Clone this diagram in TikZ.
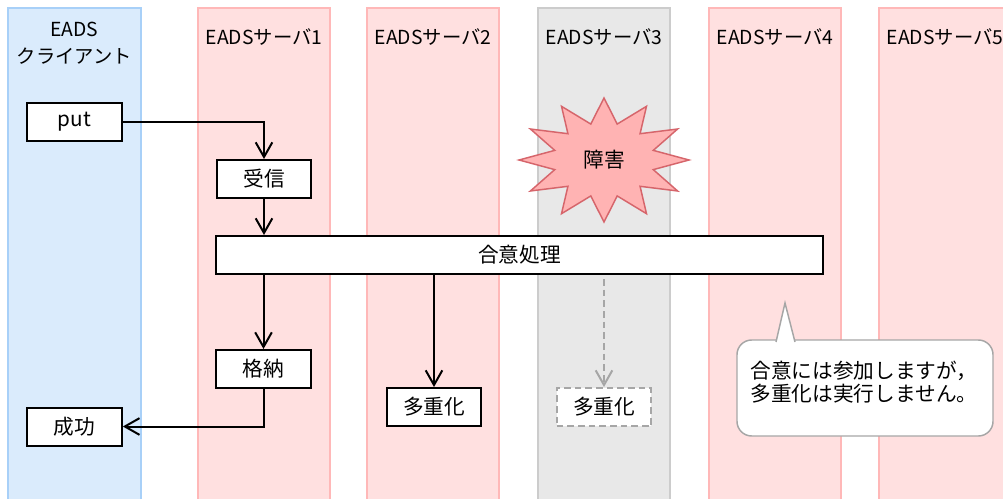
\documentclass[tikz,border=0pt]{standalone}
\usepackage{fontspec}
\setmainfont{Noto Sans CJK JP}
\usepackage{tikz}
\usetikzlibrary{arrows.meta}
\usetikzlibrary{positioning}

\definecolor{clientfill}{HTML}{DAEBFC}
\definecolor{clientline}{HTML}{A8D0F8}
\definecolor{serverfill}{HTML}{FFE0E0}
\definecolor{serverline}{HTML}{FFB8B8}
\definecolor{downfill}{HTML}{E8E8E8}
\definecolor{downline}{HTML}{CCCCCC}
\definecolor{burstfill}{HTML}{FFB3B3}
\definecolor{burstline}{HTML}{D6656B}
\definecolor{greyline}{HTML}{A6A6A6}

\tikzset{
	every node/.style={font=\fontsize{15.5pt}{17pt}\selectfont},
	title/.style={font=\fontsize{14.5pt}{20pt}\selectfont, align=center},
	lane/.style={line width=1.1pt},
	box/.style={draw, fill=white, line width=1.5pt, minimum width=71pt, minimum height=28.5pt, inner sep=0pt},
	flow/.style={line width=1.5pt, -{Straight Barb[length=11pt, width=12.5pt]}},
}

\begin{document}
\begin{tikzpicture}[x=0.75pt, y=-0.75pt]
	\clip (0, 0) rectangle (1003, 499);

	% lanes
	\filldraw[lane, fill=clientfill, draw=clientline] (8, 8) rectangle (141, 520);
	\foreach \x in {198, 367, 709, 879}
		\filldraw[lane, fill=serverfill, draw=serverline] (\x, 8) rectangle (\x+132, 520);
	\filldraw[lane, fill=downfill, draw=downline] (538, 8) rectangle (670, 520);

	\node[title] (clienttitle) at (74.5, 43.5) {EADS\\クライアント};
	\foreach \i/\x in {1/264, 2/433, 3/604, 4/775, 5/945}
		\node[title] (server\i) at (\x, 37) {EADSサーバ\i};

	% failure on server 3
	\filldraw[line width=1.1pt, fill=burstfill, draw=burstline] (604, 98)
		\foreach \k [evaluate=\k as \r using {mod(\k,2)==0 ? 1 : 0.6}] in {1,...,23} {
			-- ({604+85*\r*cos(90+15*\k)}, {160-62*\r*sin(90+15*\k)})
		} -- cycle;
	\node (fault) at (604, 160) {障害};

	% steps
	\node[box] (put) at (74.5, 122) {put};
	\node[box] (recv) at (264, 179) {受信};
	\node[box, minimum width=455pt] (agree) at (519.5, 255) {合意処理};
	\node[box] (store) at (263.5, 369) {格納};
	\node[box] (done) at (74.5, 426.5) {成功};
	\node[box] (dup2) at (434, 407) {多重化};
	\node[box, draw=greyline, dash pattern=on 5pt off 3pt] (dup3) at (604, 407) {多重化};

	\draw[flow] (put.east) -| (recv.north);
	\draw[flow] (recv.south) -- (recv.south |- agree.north);
	\draw[flow] (agree.south -| store.north) -- (store.north);
	\draw[flow] (agree.south -| dup2.north) -- (dup2.north);
	\draw[flow, greyline, dash pattern=on 5pt off 3pt] ([yshift=-3pt]agree.south -| dup3.north) -- (dup3.north);
	\draw[flow] (store.south) |- (done.east);

	% note
	\node[draw=greyline, fill=white, line width=1.1pt, rounded corners=11pt, minimum width=192pt, minimum height=72pt] (note) at (865, 388) {};
	\filldraw[line width=1.1pt, fill=white, draw=greyline] (776, 342) -- (785, 303) -- (795, 342);
	\node[align=left] (notetext) at (864, 382) {合意には参加しますが，\\多重化は実行しません。};
\end{tikzpicture}
\end{document}
